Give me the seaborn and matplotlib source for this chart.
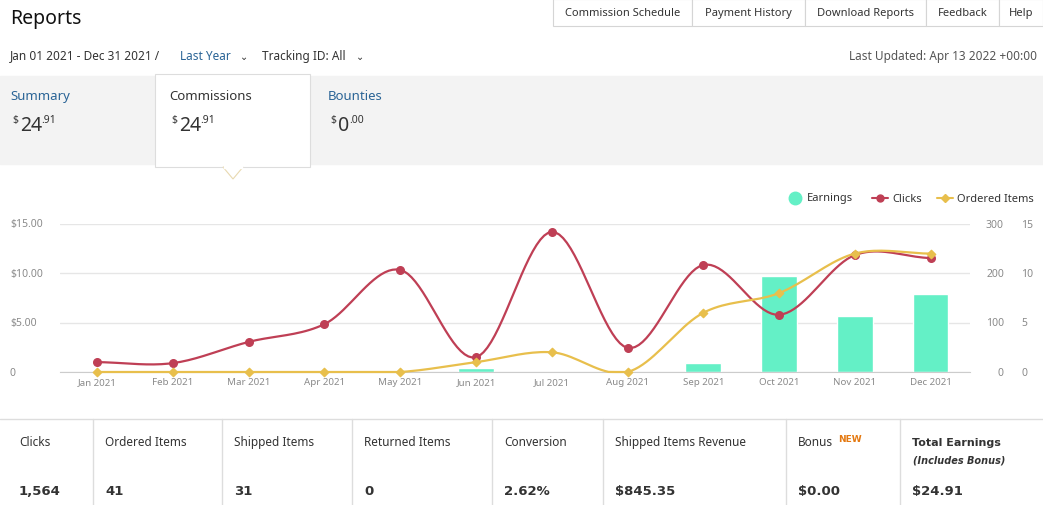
import numpy as np
import pandas as pd
import matplotlib
matplotlib.use("Agg")
import matplotlib.pyplot as plt
import seaborn as sns
from matplotlib.patches import Rectangle, Polygon

months = ["Jan 2021", "Feb 2021", "Mar 2021", "Apr 2021", "May 2021", "Jun 2021",
          "Jul 2021", "Aug 2021", "Sep 2021", "Oct 2021", "Nov 2021", "Dec 2021"]
earnings = [0, 0, 0, 0, 0, 0.45, 0, 0, 0.95, 9.75, 5.7, 7.9]
clicks = [20, 18, 61, 97, 207, 30, 284, 49, 217, 116, 237, 231]
ordered = [0, 0, 0, 0, 0, 1, 2, 0, 6, 8, 12, 12]
tabs = [("Summary", "24", ".91"), ("Commissions", "24", ".91"), ("Bounties", "0", ".00")]
stats = [("Clicks", "1,564"), ("Ordered Items", "41"), ("Shipped Items", "31"),
         ("Returned Items", "0"), ("Conversion", "2.62%"),
         ("Shipped Items Revenue", "$845.35"), ("Bonus", "$0.00"),
         ("Total Earnings", "$24.91")]
buttons = ["Commission Schedule", "Payment History", "Download Reports", "Feedback", "Help"]
earn_ticks = ["0", "$5.00", "$10.00", "$15.00"]
click_ticks = ["0", "100", "200", "300"]
ord_ticks = ["0", "5", "10", "15"]

C_EARN, C_CLICK, C_ORD = "#64f0c6", "#bf3f55", "#e8bf4c"
GREY, DARK, BLUE = "#8a8a8a", "#333333", "#2a6496"
BOLD = ["DejaVu Sans"]

sns.set_style("white")
plt.rcParams["font.family"] = ["Noto Sans", "DejaVu Sans"]
W, H = 1043, 506
fig = plt.figure(figsize=(W / 100, H / 100), dpi=100)

# page overlay in pixel coordinates
bg = fig.add_axes([0, 0, 1, 1])
bg.set_xlim(0, W); bg.set_ylim(H, 0); bg.axis("off")
bg.add_patch(Rectangle((0, 77), W, 88, color="#f3f3f3", zorder=0))
bg.add_patch(Rectangle((155, 75), 155, 93, facecolor="white", edgecolor="#dddddd", lw=0.8, zorder=1))
bg.add_patch(Polygon([(223, 168), (243, 168), (233, 180)], closed=True, facecolor="white",
                     edgecolor="#e8d9b0", lw=0.8, zorder=1))
bg.add_patch(Rectangle((224, 165), 18, 4, color="white", zorder=2))
bg.plot([0, W], [420, 420], color="#dddddd", lw=1)
bg.text(10, 19, "Reports", fontsize=14, color="#111111", va="center")
bx = [553, 692, 805, 926, 999, 1043]
for i, b in enumerate(buttons):
    bg.add_patch(Rectangle((bx[i], 0), bx[i + 1] - bx[i], 27, facecolor="white",
                           edgecolor="#d5d5d5", lw=0.8))
    bg.text((bx[i] + bx[i + 1]) / 2, 13, b, fontsize=8, color=DARK, ha="center", va="center")
bg.text(10, 56, "Jan 01 2021 - Dec 31 2021 /", fontsize=8.5, color=DARK, va="center")
bg.text(180, 56, "Last Year", fontsize=8.5, color=BLUE, va="center")
bg.text(262, 56, "Tracking ID: All", fontsize=8.5, color=DARK, va="center")
bg.text(240, 57, "\u2304", fontsize=7, color=DARK, va="center")
bg.text(356, 57, "\u2304", fontsize=7, color=DARK, va="center")
bg.text(1037, 56, "Last Updated: Apr 13 2022 +00:00", fontsize=8.5, color="#555555", ha="right", va="center")
for (name, big, cents), x in zip(tabs, [10, 169, 328]):
    bg.text(x, 96, name, fontsize=9.5, color=BLUE if name != "Commissions" else DARK, va="center")
    bg.text(x + 2, 120, "$", fontsize=7.5, color=DARK, va="center")
    bg.text(x + 10, 126, big, fontsize=14, color=DARK, va="center")
    bg.text(x + 11 + 10 * len(big), 120, cents, fontsize=7.5, color=DARK, va="center")
# legend
for x, lab, c, m in [(795, "Earnings", C_EARN, "o"), (880, "Clicks", C_CLICK, "o"),
                     (945, "Ordered Items", C_ORD, "D")]:
    if lab == "Earnings":
        bg.plot(x, 199, "o", color=c, ms=9)
    else:
        bg.plot([x - 8, x + 8], [199, 199], color=c, lw=1.5)
        bg.plot(x, 199, m, color=c, ms=5 if m == "o" else 4)
    bg.text(x + 12, 199, lab, fontsize=8, color=DARK, va="center")
# bottom stats
sx = [0, 93, 222, 352, 492, 603, 786, 900, 1043]
for i, (lab, val) in enumerate(stats):
    if i > 0:
        bg.plot([sx[i], sx[i]], [420, 506], color="#dddddd", lw=1)
    tx = sx[i] + (19 if i == 0 else 12)
    if i == 7:
        bg.text(tx, 443, lab, fontsize=8, color=DARK, va="center", fontweight="bold", family=BOLD)
    else:
        bg.text(tx, 443, lab, fontsize=8.5, color=DARK, va="center")
    bg.text(tx, 492, val, fontsize=9.5, color=DARK, va="center", fontweight="bold", family=BOLD)
bg.text(838, 440, "NEW", fontsize=6.5, color="#e47911", fontweight="bold", va="center", family=BOLD)
bg.text(913, 461, "(Includes Bonus)", fontsize=7, color=DARK, style="italic", fontweight="bold",
        va="center", family=BOLD)

# chart
ax = fig.add_axes([60 / W, 1 - 373 / H, 910 / W, 148 / H])
ax.set_facecolor("none")
sns.barplot(x=months, y=earnings, ax=ax, color=C_EARN, width=0.47, saturation=1)
ax.set_xlim(-0.49, 11.52)
ax.set_ylim(0, 15)
ax.set_yticks([0, 5, 10, 15])
ax.set_yticklabels([])
ax.yaxis.grid(True, color="#e6e6e6", lw=1)
ax.set_axisbelow(True)
for s in ax.spines.values():
    s.set_visible(False)
ax.spines["bottom"].set_visible(True); ax.spines["bottom"].set_color("#cccccc")
ax.tick_params(axis="both", colors=GREY, labelsize=7, length=0)
ax.set_xlabel(""); ax.set_ylabel("")

# tick labels of the three y scales, placed in pixel space
for i in range(4):
    yp = 373 - i * 148 / 3
    bg.text(10, yp, earn_ticks[i], fontsize=7.5, color=GREY, va="center")
    bg.text(1004, yp, click_ticks[i], fontsize=7.5, color=GREY, va="center", ha="right")
    bg.text(1021, yp, ord_ticks[i], fontsize=7.5, color=GREY, va="center")


def catmull(y, n=20):
    y = np.asarray(y, float)
    p = np.concatenate([[y[0]], y, [y[-1]]])
    xs, ys = [], []
    for i in range(len(y) - 1):
        t = np.linspace(0, 1, n, endpoint=False)
        p0, p1, p2, p3 = p[i], p[i + 1], p[i + 2], p[i + 3]
        ys.append(0.5 * (2 * p1 + (-p0 + p2) * t + (2 * p0 - 5 * p1 + 4 * p2 - p3) * t ** 2
                         + (-p0 + 3 * p1 - 3 * p2 + p3) * t ** 3))
        xs.append(i + t)
    return np.concatenate(xs + [[len(y) - 1]]), np.concatenate(ys + [[y[-1]]])


ax2 = ax.twinx()
ax2.set_ylim(0, 300)
xs, ys = catmull(clicks)
sns.lineplot(x=xs, y=ys, ax=ax2, color=C_CLICK, lw=1.6, clip_on=False)
ax2.scatter(range(12), clicks, color=C_CLICK, s=30, zorder=5, clip_on=False)

ax3 = ax.twinx()
ax3.set_ylim(0, 15)
xs, ys = catmull(ordered)
sns.lineplot(x=xs, y=np.clip(ys, 0, None), ax=ax3, color=C_ORD, lw=1.6, clip_on=False)
ax3.scatter(range(12), ordered, color=C_ORD, s=18, marker="D", zorder=5, clip_on=False)
for a in (ax2, ax3):
    for s in a.spines.values():
        s.set_visible(False)
    a.set_xlim(-0.49, 11.52)
    a.set_yticks([])
    a.set_ylabel("")

fig.savefig("out.png", dpi=100)
